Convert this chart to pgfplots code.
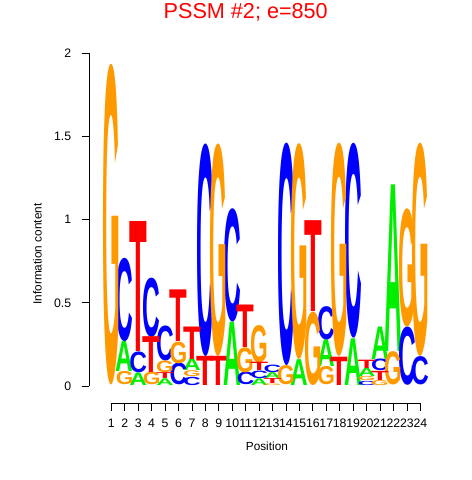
\documentclass[border=0pt]{standalone}
\usepackage{pgfplots}
\pgfplotsset{compat=1.18}
\usepackage{pgfplotstable}
\usepackage{graphicx}
\usepackage{fontspec}
\setmainfont{Liberation Sans}
\definecolor{colA}{RGB}{0,238,0}
\definecolor{colC}{RGB}{0,0,255}
\definecolor{colG}{RGB}{255,153,0}
\definecolor{colT}{RGB}{255,0,0}

\pgfplotstableread{
x y h
2 0.08 0.18
3 0 0.075
5 0 0.04
7 0.085 0.07
10 0 0.38
12 0 0.04
13 0.04 0.035
15 0 0.155
17 0.11 0.16
19 0 0.28
20 0.05 0.05
21 0.155 0.195
22 0.2 1.0
}\tabA
\pgfplotstableread{
x y h
2 0.26 0.50
3 0.075 0.125
4 0.29 0.355
5 0.145 0.21
6 0 0.13
7 0 0.05
8 0.175 1.275
10 0.38 0.68
11 0 0.075
12 0.04 0.045
13 0.075 0.045
14 0.115 1.335
17 0.27 0.2
19 0.28 1.17
20 0 0.025
21 0.085 0.07
23 0 0.35
24 0 0.17
}\tabC
\pgfplotstableread{
x y h
1 0 1.92
2 0 0.08
4 0 0.075
5 0.075 0.07
6 0.13 0.13
7 0.05 0.035
9 0.175 1.275
11 0.075 0.15
12 0.135 0.225
13 0 0.01
14 0 0.115
15 0.155 1.295
16 0 0.44
17 0 0.11
18 0.17 1.28
20 0.025 0.025
21 0 0.03
22 0 0.2
23 0.35 0.71
24 0.17 1.28
}\tabG
\pgfplotstableread{
x y h
3 0.2 0.78
4 0.075 0.215
5 0.04 0.035
6 0.26 0.31
7 0.155 0.195
8 0 0.175
9 0 0.175
11 0.225 0.255
12 0.085 0.05
13 0.01 0.03
16 0.44 0.545
18 0 0.17
20 0.10 0.05
21 0.03 0.055
}\tabT

\pgfplotsset{letter/.style n args={2}{only marks, mark=none, forget plot,
  visualization depends on={\thisrow{h}\as\hh},
  nodes near coords={\pgfmathsetlengthmacro\hL{\hh*169.5}\resizebox*{18pt}{\hL}{\bfseries #1}},
  every node near coord/.style={anchor=south, inner sep=0pt, outer sep=0pt, text=#2, yshift=1pt}}}

\begin{document}
\begin{tikzpicture}
\begin{axis}[
  x=13.67pt, y=169.5pt,
  xmin=-0.63, xmax=25.63, ymin=-0.1015, ymax=2.1,
  clip=false,
  axis lines*=left,
  axis line style={draw=none},
  tick align=outside,
  major tick length=8pt,
  every tick/.style={black, line width=0.8pt},
  xtick={1,...,24},
  xticklabels={1,2,3,4,5,6,7,8,9,10,11,12,13,14,15,16,17,18,19,20,21,22,23,24},
  ytick={0,0.5,1,1.5,2},
  yticklabels={0,0.5,1,1.5,2},
  tick label style={font=\fontsize{12.5}{14}\selectfont},
  yticklabel style={xshift=-7pt},
  xticklabel style={yshift=-5pt},
  xlabel={Position},
  ylabel={Information content},
  xlabel style={font=\fontsize{12}{14}\selectfont, at={(axis description cs:0.503,-0.1179)}, anchor=center},
  ylabel style={font=\fontsize{12}{14}\selectfont, at={(axis description cs:-0.1476,0.4065)}, anchor=center},
  title={PSSM \#2; e=850},
  title style={font=\fontsize{22}{24}\selectfont, text=colT, at={(axis description cs:0.443,1.0496)}, anchor=center},
]
\addplot[letter={A}{colA}] table[x=x,y=y]{\tabA};
\addplot[letter={C}{colC}] table[x=x,y=y]{\tabC};
\addplot[letter={G}{colG}] table[x=x,y=y]{\tabG};
\addplot[letter={T}{colT}] table[x=x,y=y]{\tabT};
\draw[black, line width=0.8pt] (axis cs:1,-0.1015) -- (axis cs:24,-0.1015);
\draw[black, line width=0.8pt] (axis cs:-0.63,0) -- (axis cs:-0.63,2);
\coordinate (o) at (rel axis cs:0,0);
\end{axis}
\path ([shift={(-91pt,-78.3pt)}]o) rectangle ++(480pt,480pt);
\end{tikzpicture}
\end{document}
